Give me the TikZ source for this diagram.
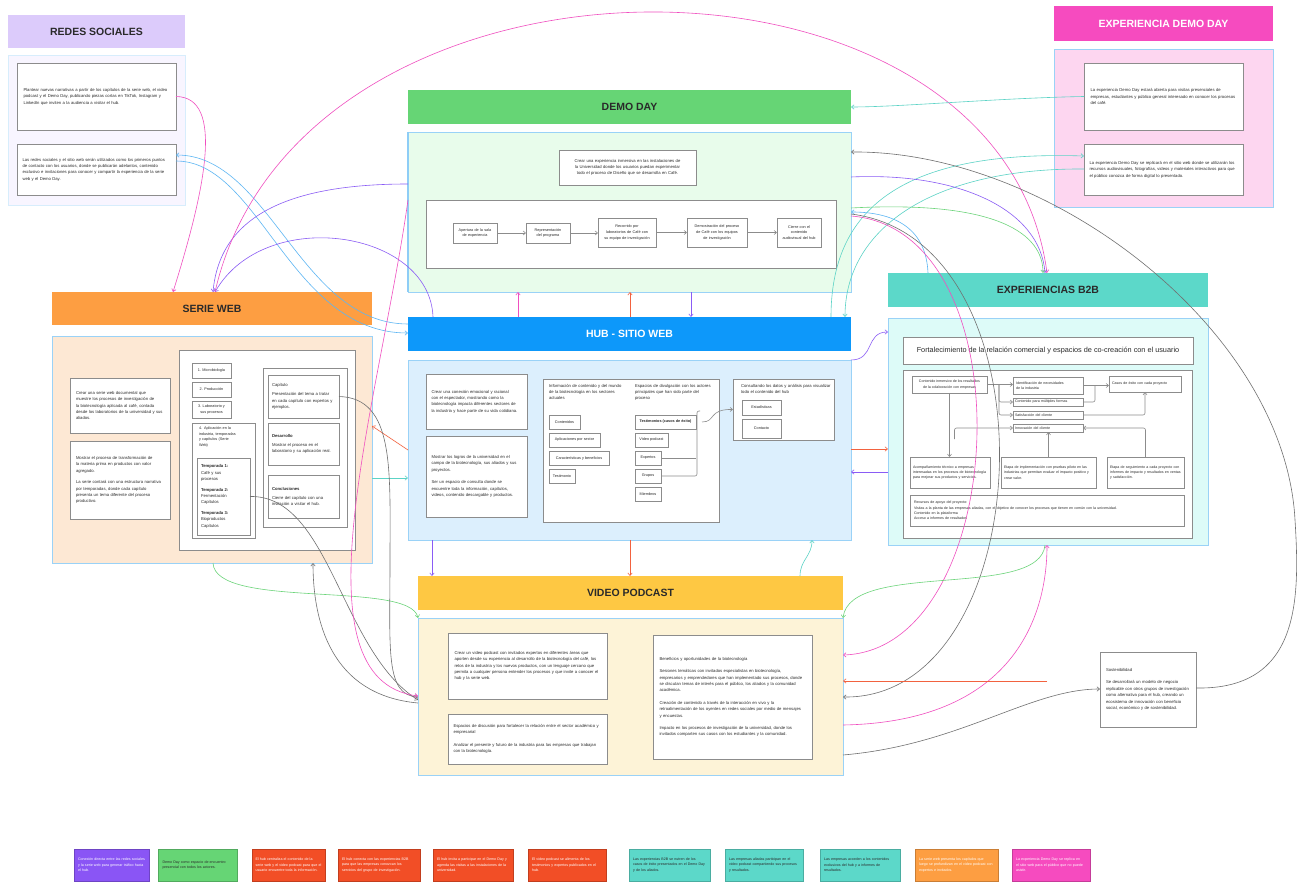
\documentclass[tikz,border=0pt]{standalone}
\usepackage{fontspec}
\setmainfont{Liberation Sans}
\usetikzlibrary{arrows.meta,calc,shadows}

\definecolor{rsHead}{HTML}{DCCBFB}
\definecolor{rsBody}{HTML}{F8F5FF}
\definecolor{edHead}{HTML}{F64BBF}
\definecolor{edBody}{HTML}{FDD6F0}
\definecolor{ddHead}{HTML}{66D575}
\definecolor{ddBody}{HTML}{E8FCEB}
\definecolor{swHead}{HTML}{FD9E42}
\definecolor{swBody}{HTML}{FDE8D4}
\definecolor{hbHead}{HTML}{0D98FA}
\definecolor{hbBody}{HTML}{DCEFFD}
\definecolor{bbHead}{HTML}{5CD8C9}
\definecolor{bbBody}{HTML}{DDFBF8}
\definecolor{vpHead}{HTML}{FEC843}
\definecolor{vpBody}{HTML}{FDF3D7}
\definecolor{edgeBlue}{HTML}{9AD2F7}
\definecolor{cardEdge}{HTML}{8C8C8C}
\definecolor{ink}{HTML}{2A2A2A}
\definecolor{cPink}{HTML}{F04FC0}
\definecolor{cBlue}{HTML}{5DB6F3}
\definecolor{cPurple}{HTML}{8A5CF5}
\definecolor{cGreen}{HTML}{6CD47A}
\definecolor{cTeal}{HTML}{5CD3C6}
\definecolor{cRed}{HTML}{F2623F}
\definecolor{cGray}{HTML}{707070}
\definecolor{lgPurple}{HTML}{8A55F5}
\definecolor{lgGreen}{HTML}{66D575}
\definecolor{lgRed}{HTML}{F24E26}
\definecolor{lgTeal}{HTML}{5CD8C9}
\definecolor{lgOrange}{HTML}{FD9E42}
\definecolor{lgPink}{HTML}{F64BBF}

% small text sizes, set ragged without hyphenation
\newcommand{\nohy}{\hyphenpenalty=10000\exhyphenpenalty=10000}
\newcommand{\txtS}{\fontsize{4.2}{6.4}\selectfont\nohy}
\newcommand{\txtXS}{\fontsize{3.8}{5.6}\selectfont\nohy}
\newcommand{\txtL}{\fontsize{3.6}{5.4}\selectfont\nohy}
\newcommand{\hfont}{\fontsize{10.5}{12}\selectfont\bfseries}

\tikzset{
  every node/.style={inner sep=0pt, outer sep=0pt, text=ink},
  wh/.style 2 args={minimum width=#1pt, minimum height=#2pt},
  hdr/.style={anchor=north west, font=\hfont},
  bodybox/.style={anchor=north west, draw=edgeBlue, line width=0.7pt},
  card/.style={anchor=north west, fill=white, draw=cardEdge, line width=0.7pt,
    drop shadow={shadow xshift=0.6pt, shadow yshift=-0.8pt, opacity=0.3},
    font=\txtS, align=left},
  chip/.style={card, font=\txtXS, align=center},
  mini/.style={card, font=\txtL, align=left},
  plain/.style={anchor=north west, font=\txtS, align=left},
  legend/.style={anchor=north west, line width=0.6pt, minimum height=32pt,
    font=\txtL, align=left, text=white},
  conn/.style={line width=0.6pt, -{Straight Barb[length=2.6pt,width=4.4pt]}},
  flow/.style={draw=cardEdge, line width=0.6pt, -{Straight Barb[length=2.4pt,width=4pt]}},
  gl/.style={draw=cardEdge, line width=0.6pt},
}

\begin{document}
\begin{tikzpicture}[x=1pt,y=-1pt]
\fill[white] (0,0) rectangle (1301,882);
\useasboundingbox (0,0) rectangle (1301,882);

% ---------------- REDES SOCIALES ----------------
\node[hdr, fill=rsHead, wh={177}{33}] (rsH) at (8,15) {REDES SOCIALES};
\node[bodybox, fill=rsBody, draw=edgeBlue!40, wh={177}{150}] (rsB) at (8,55) {};
\node[card, wh={159}{67}, text width=146pt] (rs1) at (17,63) {Plantear nuevas narrativas a partir de los capítulos de la serie web, el video podcast y el Demo Day, publicando piezas cortas en TikTok, Instagram y LinkedIn que inviten a la audiencia a visitar el hub.};
\node[card, wh={159}{51}, text width=148pt] (rs2) at (17,144) {Las redes sociales y el sitio web serán utilizados como los primeros puntos de contacto con los usuarios, donde se publicarán adelantos, contenido exclusivo e invitaciones para conocer y compartir la experiencia de la serie web y el Demo Day.};

% ---------------- EXPERIENCIA DEMO DAY ----------------
\node[hdr, fill=edHead, wh={219}{35}, text=white] (edH) at (1054,6) {EXPERIENCIA DEMO DAY};
\node[bodybox, fill=edBody, wh={219}{158}] (edB) at (1054,49) {};
\node[card, wh={159}{67}, text width=146pt] (ed1) at (1084,63) {La experiencia Demo Day estará abierta para visitas presenciales de empresas, estudiantes y público general interesado en conocer los procesos del café.};
\node[card, wh={159}{51}, text width=148pt] (ed2) at (1084,144) {La experiencia Demo Day se replicará en el sitio web donde se utilizarán los recursos audiovisuales, fotografías, videos y materiales interactivos para que el público conozca de forma digital lo presentado.};

% ---------------- DEMO DAY ----------------
\node[hdr, fill=ddHead, wh={443}{34}] (ddH) at (408,90) {DEMO DAY};
\node[bodybox, fill=ddBody, wh={443}{160}] (ddB) at (408,132) {};
\draw[edgeBlue!80!cBlue, line width=1.4pt] (ddB.north west) -- (ddB.south west);
\node[card, wh={137}{35}, text width=128pt, align=center] (dd0) at (559,150) {Crear una experiencia inmersiva en las instalaciones de la Universidad donde los usuarios puedan experimentar todo el proceso de Diseño que se desarrolla en Café.};
\node[card, wh={410}{68}] (ddF) at (426,200) {};
\node[chip, wh={44}{20}, text width=40pt] (f1) at (453,223) {Apertura de la sala\\de experiencia};
\node[chip, wh={44}{20}, text width=40pt] (f2) at (526,223) {Representación\\del programa};
\node[chip, wh={58}{29}, text width=54pt] (f3) at (598,218) {Recorrido por\\laboratorios de Café con\\su equipo de investigación};
\node[chip, wh={60}{29}, text width=56pt] (f4) at (687,218) {Demostración del proceso\\de Café con los equipos\\de investigación};
\node[chip, wh={44}{29}, text width=40pt] (f5) at (777,218) {Cierre con el\\contenido\\audiovisual del hub};

% ---------------- SERIE WEB ----------------
\node[hdr, fill=swHead, wh={320}{33}] (swH) at (52,292) {SERIE WEB};
\node[bodybox, fill=swBody, wh={320}{227}] (swB) at (52,336) {};
\node[card, wh={100}{55}, text width=88pt] (sw1) at (70,378) {Crear una serie web documental que muestre los procesos de investigación de la biotecnología aplicada al café, contada desde los laboratorios de la universidad y sus aliados.};
\node[card, wh={100}{78}, text width=88pt] (sw2) at (70,441) {Mostrar el proceso de transformación de la materia prima en productos con valor agregado.\\[5pt]La serie contará con una estructura narrativa por temporadas, donde cada capítulo presenta un tema diferente del proceso productivo.};
\node[card, wh={176}{200}] (swP) at (179,350) {};
\node[chip, wh={39}{15}] (sa) at (192,363) {1. Microbiología};
\node[chip, wh={39}{15}] (sb) at (192,382) {2. Producción};
\node[chip, wh={39}{17}] (sc) at (192,401) {3. Laboratorio y\\sus procesos};
\node[card, wh={63}{115}] (sd) at (192,423) {};
\node[plain, font=\txtXS, text width=52pt] (sdT) at (199,427) {4. Aplicación en la\\industria, temporadas\\y capítulos (Serie\\Web)};
\node[card, wh={53}{77}, text width=45pt] (se) at (197,458) {\textbf{Temporada 1:}\\Café y sus\\procesos\\[4pt]\textbf{Temporada 2:}\\Fermentación\\Capítulos\\[4pt]\textbf{Temporada 3:}\\Bioproductos\\Capítulos};
\node[card, wh={84}{159}] (swR) at (263,368) {};
\node[card, wh={71}{43}, text width=63pt] (r1) at (268,375) {Capítulo\\[3pt]Presentación del tema a tratar en cada capítulo con expertos y ejemplos.};
\node[card, wh={71}{42}, text width=63pt] (r2) at (268,423) {\textbf{Desarrollo}\\[3pt]Mostrar el proceso en el laboratorio y su aplicación real.};
\node[card, wh={71}{43}, text width=63pt] (r3) at (268,475) {\textbf{Conclusiones}\\[3pt]Cierre del capítulo con una invitación a visitar el hub.};

% ---------------- HUB - SITIO WEB ----------------
\node[hdr, fill=hbHead, wh={443}{34}, text=white] (hbH) at (408,317) {HUB - SITIO WEB};
\node[bodybox, fill=hbBody, wh={443}{180}] (hbB) at (408,360) {};
\node[card, wh={101}{55}, text width=90pt] (hb1) at (426,374) {Crear una conexión emocional y racional con el espectador, mostrando como la biotecnología impacta diferentes sectores de la industria y hace parte de su vida cotidiana.};
\node[card, wh={101}{81}, text width=90pt] (hb2) at (426,436) {Mostrar los logros de la universidad en el campo de la biotecnología, sus aliados y sus proyectos.\\[6pt]Ser un espacio de consulta donde se encuentre toda la información, capítulos, videos, contenido descargable y productos.};
\node[card, wh={176}{143}] (hbM) at (543,379) {};
\node[plain, text width=78pt] (hmA) at (549,384) {Información de contenido y del mundo de la biotecnología en los sectores actuales};
\node[plain, text width=76pt] (hmB) at (635,384) {Espacios de divulgación con los actores principales que han sido parte del proceso};
\node[chip, wh={31}{14}] (m1) at (549,415) {Contenidos};
\node[chip, wh={51}{14}] (m2) at (549,433) {Aplicaciones por sector};
\node[chip, wh={60}{14}] (m3) at (549,451) {Características y beneficios};
\node[chip, wh={26}{14}] (m4) at (549,469) {Testimonio};
\node[chip, wh={61}{14}, font=\txtXS\bfseries] (n1) at (635,415) {Testimonios (casos de éxito)};
\node[chip, wh={33}{14}] (n2) at (635,433) {Video podcast};
\node[chip, wh={26}{14}] (n3) at (635,451) {Expertos};
\node[chip, wh={26}{14}] (n4) at (635,469) {Grupos};
\node[chip, wh={26}{14}] (n5) at (635,487) {Miembros};
\node[card, wh={101}{61}] (hbR) at (733,379) {};
\node[plain, text width=90pt] (hrT) at (741,384) {Consultando los datos y análisis para visualizar todo el contenido del hub};
\node[chip, wh={39}{15}] (s1) at (742,400) {Estadísticas};
\node[chip, wh={39}{19}] (s2) at (742,419) {Contacto};

% ---------------- EXPERIENCIAS B2B ----------------
\node[hdr, fill=bbHead, wh={320}{34}] (b2H) at (888,273) {EXPERIENCIAS B2B};
\node[bodybox, fill=bbBody, wh={320}{227}] (b2B) at (888,318) {};
\node[card, wh={290}{27}, font=\fontsize{7.3}{9}\selectfont] (b2T) at (903,337) {Fortalecimiento de la relación comercial y espacios de co-creación con el usuario};
\node[card, wh={289}{168}] (b2P) at (903,370) {};
\node[mini, wh={75}{17}, align=center] (c1) at (912,376) {Contenido inmersivo de los resultados\\de la colaboración con empresas};
\node[mini, wh={70}{17}, text width=64pt] (c2) at (1013,377) {Identificación de necesidades\\de la industria};
\node[mini, wh={70}{8}, text width=66pt] (c3) at (1013,398) {Contenido para múltiples formas};
\node[mini, wh={70}{8}, text width=66pt] (c4) at (1013,411) {Satisfacción del cliente};
\node[mini, wh={70}{8}, text width=66pt] (c5) at (1013,424) {Innovación del cliente};
\node[mini, wh={72}{16}, text width=66pt] (c6) at (1109,376) {Casos de éxito con cada proyecto};
\node[mini, wh={80}{31}, text width=74pt] (d1) at (910,457) {Acompañamiento técnico a empresas interesadas en los procesos de biotecnología para mejorar sus productos y servicios.};
\node[mini, wh={95}{31}, text width=89pt] (d2) at (1001,457) {Etapa de implementación con pruebas piloto en las industrias que permitan evaluar el impacto positivo y crear valor.};
\node[mini, wh={77}{31}, text width=71pt] (d3) at (1107,457) {Etapa de seguimiento a cada proyecto con informes de impacto y resultados en ventas y satisfacción.};
\node[mini, wh={274}{31}, text width=266pt] (d4) at (910,495) {Recursos de apoyo del proyecto:\\Visitas a la planta de las empresas aliadas, con el objetivo de conocer los procesos que tienen en común con la universidad.\\Contenido en la plataforma\\Acceso a informes de resultados};

% ---------------- VIDEO PODCAST ----------------
\node[hdr, fill=vpHead, wh={425}{34}] (vpH) at (418,576) {VIDEO PODCAST};
\node[bodybox, fill=vpBody, wh={425}{157}] (vpB) at (418,618) {};
\node[card, wh={159}{66}, text width=146pt] (v1) at (448,633) {Crear un video podcast con invitados expertos en diferentes áreas que aporten desde su experiencia al desarrollo de la biotecnología del café, los retos de la industria y los nuevos productos, con un lenguaje cercano que permita a cualquier persona entender los procesos y que invite a conocer el hub y la serie web.};
\node[card, wh={159}{50}, text width=148pt] (v2) at (448,714) {Espacios de discusión para fortalecer la relación entre el sector académico y empresarial\\[6pt]Analizar el presente y futuro de la industria para las empresas que trabajan con la biotecnología.};
\node[card, wh={159}{124}, text width=146pt] (v3) at (653,635) {Beneficios y oportunidades de la biotecnología\\[6pt]Sesiones temáticas con invitados especialistas en biotecnología, empresarios y emprendedores que han implementado sus procesos, donde se discutan temas de interés para el público, los aliados y la comunidad académica.\\[6pt]Creación de contenido a través de la interacción en vivo y la retroalimentación de los oyentes en redes sociales por medio de mensajes y encuestas.\\[6pt]Impacto en los procesos de investigación de la universidad, donde los invitados comparten sus casos con los estudiantes y la comunidad.};

% ---------------- Sostenibilidad ----------------
\node[card, wh={96}{75}, text width=84pt] (sos) at (1100,652) {Sostenibilidad\\[6pt]Se desarrollará un modelo de negocio replicable con otros grupos de investigación como alternativa para el hub, creando un ecosistema de innovación con beneficio social, económico y de sostenibilidad.};

% ---------------- legend strip ----------------
\node[legend, fill=lgPurple, draw=lgPurple!80!black, minimum width=75pt, text width=67pt] (L1) at (74,849) {Conexión directa entre las redes sociales y la serie web para generar tráfico hacia el hub.};
\node[legend, fill=lgGreen, draw=lgGreen!80!black, minimum width=79pt, text width=70pt, text=ink] (L2) at (158,849) {Demo Day como espacio de encuentro presencial con todos los actores.};
\node[legend, fill=lgRed, draw=lgRed!80!black, minimum width=73pt, text width=66pt] (L3) at (252,849) {El hub centraliza el contenido de la serie web y el video podcast para que el usuario encuentre toda la información.};
\node[legend, fill=lgRed, draw=lgRed!80!black, minimum width=82pt, text width=74pt] (L4) at (338,849) {El hub conecta con las experiencias B2B para que las empresas conozcan los servicios del grupo de investigación.};
\node[legend, fill=lgRed, draw=lgRed!80!black, minimum width=80pt, text width=72pt] (L5) at (433,849) {El hub invita a participar en el Demo Day y agenda las visitas a las instalaciones de la universidad.};
\node[legend, fill=lgRed, draw=lgRed!80!black, minimum width=78pt, text width=70pt] (L6) at (528,849) {El video podcast se alimenta de los testimonios y expertos publicados en el hub.};
\node[legend, fill=lgTeal, draw=lgTeal!80!black, minimum width=81pt, text width=73pt, text=ink] (L7) at (629,849) {Las experiencias B2B se nutren de los casos de éxito presentados en el Demo Day y de los aliados.};
\node[legend, fill=lgTeal, draw=lgTeal!80!black, minimum width=78pt, text width=70pt, text=ink] (L8) at (725,849) {Las empresas aliadas participan en el video podcast compartiendo sus procesos y resultados.};
\node[legend, fill=lgTeal, draw=lgTeal!80!black, minimum width=80pt, text width=72pt, text=ink] (L9) at (820,849) {Las empresas acceden a los contenidos exclusivos del hub y a informes de resultados.};
\node[legend, fill=lgOrange, draw=lgOrange!80!black, minimum width=83pt, text width=75pt] (L10) at (915,849) {La serie web presenta los capítulos que luego se profundizan en el video podcast con expertos e invitados.};
\node[legend, fill=lgPink, draw=lgPink!80!black, minimum width=78pt, text width=70pt] (L11) at (1012,849) {La experiencia Demo Day se replica en el sitio web para el público que no puede asistir.};

% ---------------- inner flows ----------------
\draw[flow] (f1.east) -- (f2.west);
\draw[flow] (f2.east) -- (f2.east -| f3.west);
\draw[flow] (f3.east) -- (f3.east -| f4.west);
\draw[flow] (f4.east) -- (f4.east -| f5.west);

\draw[gl] (n3.east) -- (n3.east -| n1.east);
\draw[gl, rounded corners=2pt] (n4.east) -| ($(n1.east)+(1,-11)$) -- ++(3,0);
\draw[flow] ($(n1.east)+(6,0)$) .. controls (716,422) and (708,409) .. (hbR.west);

\draw[flow] (c1.east) -- (c1.east -| c2.west);
\draw[flow, rounded corners=2pt] ($(c1.east)+(12,0)$) |- (c3.west);
\draw[flow, rounded corners=2pt] ($(c1.east)+(12,0)$) |- (c4.west);
\draw[flow] (c1.south) -- (c1.south |- d1.north);
\draw[flow, rounded corners=2pt] ($(c1.south)+(5,46)$) |- (c5.west);
\draw[flow] (d2.north) -- (d2.north |- c5.south);
\draw[flow, rounded corners=2pt] (d3.north) |- (c5.east);
\draw[flow] (c2.east) -- (c2.east -| c6.west);
\draw[gl, rounded corners=2pt] (c3.east) -| ($(c2.east)+(12,0)$);
\draw[flow, rounded corners=2pt] (c4.east) -| (c6.south);

% ---------------- connectors between sections ----------------
\draw[conn, cPink] (rs1.east) .. controls (225,97) and (205,190) .. ($(swH.north west)+(121,0)$);
\draw[conn, cBlue] ($(hbH.north west)+(0,7)$) .. controls (300,324) and (270,155) .. ($(rs2.north west)+(159,11)$);
\draw[conn, cBlue] ($(rs2.north west)+(159,17)$) .. controls (260,161) and (290,333) .. ($(hbH.north west)+(0,16)$);
\draw[conn, cPurple] ($(ddB.north west)+(0,52)$) .. controls (290,184) and (220,215) .. ($(swH.north west)+(161,0)$);
\draw[conn, cPurple] ($(hbH.north west)+(25,0)$) .. controls (430,230) and (265,205) .. ($(swH.north west)+(163,0)$);
\draw[conn, cPink] ($(swH.north west)+(163,0)$) .. controls (300,-78) and (1000,-78) .. ($(b2H.north west)+(159,0)$);

\draw[conn, cTeal] (ed1.west) .. controls (1000,98) and (900,107) .. (ddH.east);
\draw[conn, cTeal] ($(hbH.north west)+(423,0)$) .. controls (831,210) and (900,150) .. ($(ed2.north west)+(0,12)$);
\draw[conn, cTeal] ($(ed2.north west)+(0,25)$) .. controls (930,168) and (845,230) .. ($(hbH.north west)+(437,0)$);

\draw[conn, cPurple] ($(ddB.north west)+(443,45)$) .. controls (960,172) and (1040,210) .. ($(b2H.north west)+(157,0)$);
\draw[conn, cBlue] ($(b2H.north west)+(40,0)$) .. controls (926,225) and (890,212) .. ($(ddB.north west)+(443,80)$);
\draw[conn, cGreen] ($(ddB.north west)+(443,76)$) .. controls (1000,200) and (1043,235) .. ($(b2H.north west)+(155,0)$);
\draw[conn, cGray] ($(ddB.north west)+(443,82)$) .. controls (1060,240) and (1040,700) .. ($(vpB.north west)+(425,79)$);
\draw[conn, cPink] ($(ddB.north west)+(443,84)$) .. controls (1030,230) and (1010,650) .. ($(vpB.north west)+(425,37)$);
\draw[conn, cPink] ($(vpB.north west)+(425,107)$) .. controls (1010,722) and (1047,620) .. ($(b2B.north west)+(159,227)$);
\draw[conn, cGreen] ($(b2B.north west)+(157,227)$) .. controls (1040,600) and (850,560) .. (vpB.north east);
\coordinate (redTail) at (1047,681);
\draw[conn, cRed] (redTail) -- ($(vpB.north west)+(425,63)$);
\draw[conn, cGray] ($(vpB.north west)+(425,137)$) .. controls (960,745) and (1030,689) .. ($(sos.north west)+(0,37)$);
\draw[conn, cGray] ($(sos.north west)+(96,36)$) .. controls (1300,690) and (1300,600) .. (1295,520) .. controls (1285,330) and (1050,150) .. ($(ddB.north west)+(443,20)$);

\draw[conn, cRed] ($(hbB.north west)+(0,90)$) -- ($(swB.north west)+(320,90)$);
\draw[conn, cTeal] ($(swB.north west)+(320,142)$) -- ($(hbB.north west)+(0,118)$);
\draw[conn, cRed] ($(hbB.north west)+(443,89)$) -- ($(b2B.north west)+(0,131)$);
\draw[conn, cPurple] ($(b2B.north west)+(0,154)$) -- ($(hbB.north west)+(443,112)$);
\draw[conn, cPurple] ($(hbB.north west)+(443,0)$) .. controls (875,360) and (865,332) .. ($(b2B.north west)+(0,14)$);

\draw[conn, cPink] ($(hbH.north west)+(110,0)$) -- ($(ddB.north west)+(110,160)$);
\draw[conn, cRed] ($(hbH.north west)+(222,0)$) -- ($(ddB.north west)+(222,160)$);
\draw[conn, cPurple] ($(ddB.north west)+(283,160)$) -- ($(hbH.north west)+(283,0)$);
\draw[conn, cPurple] ($(hbB.north west)+(24,180)$) -- ($(vpH.north west)+(14,0)$);
\draw[conn, cRed] ($(hbB.north west)+(222,180)$) -- ($(vpH.north west)+(212,0)$);
\draw[conn, cTeal] ($(vpH.north west)+(382,0)$) .. controls (800,560) and (812,556) .. ($(hbB.north west)+(404,180)$);

\draw[conn, cGreen] ($(swB.north west)+(161,227)$) .. controls (215,610) and (410,580) .. (vpB.north west);
\draw[conn, cGray] (r1.east) .. controls (395,398) and (390,470) .. (390,560) .. controls (390,650) and (385,695) .. ($(vpB.north west)+(0,79)$);
\draw[conn, cGray] (se.east) .. controls (330,495) and (340,650) .. ($(vpB.north west)+(0,82)$);
\draw[conn, cGray] ($(vpB.north west)+(0,85)$) .. controls (330,695) and (313,620) .. ($(swB.north west)+(261,227)$);
\draw[conn, cPink] ($(ddB.north west)+(0,68)$) .. controls (380,400) and (290,680) .. ($(vpB.north west)+(0,78)$);

\end{tikzpicture}
\end{document}
